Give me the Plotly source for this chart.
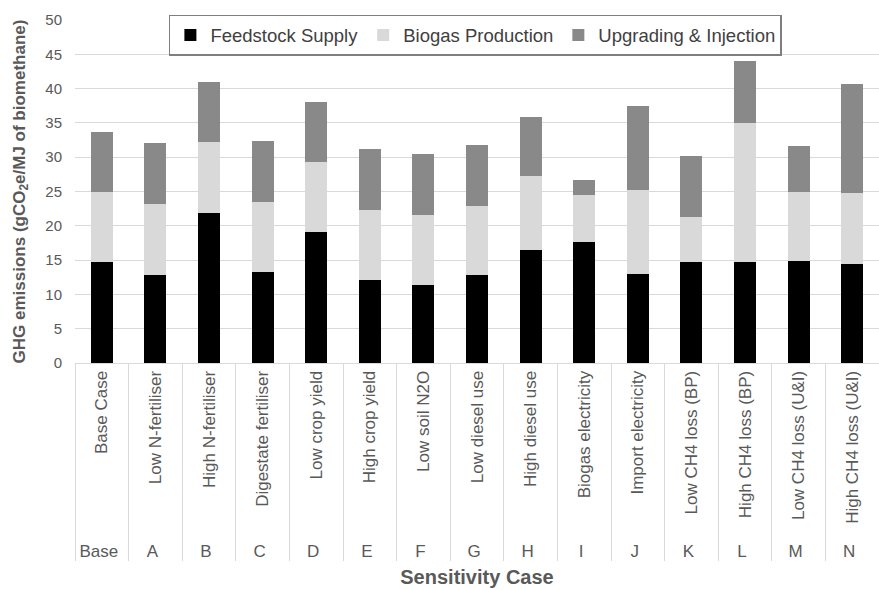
import plotly.graph_objects as go

case_letters = ["Base", "A", "B", "C", "D", "E", "F", "G", "H", "I", "J", "K", "L", "M", "N"]
case_names = ["Base Case", "Low N-fertiliser", "High N-fertiliser", "Digestate fertiliser",
              "Low crop yield", "High crop yield", "Low soil N2O", "Low diesel use",
              "High diesel use", "Biogas electricity", "Import electricity",
              "Low CH4 loss (BP)", "High CH4 loss (BP)", "Low CH4 loss (U&I)", "High CH4 loss (U&I)"]

feedstock_supply = [14.7, 12.9, 21.9, 13.2, 19.1, 12.1, 11.4, 12.9, 16.5, 17.6, 13.0, 14.7, 14.7, 14.85, 14.5]
biogas_production = [10.2, 10.25, 10.3, 10.25, 10.2, 10.2, 10.2, 10.0, 10.7, 6.9, 12.2, 6.6, 20.3, 10.15, 10.35]
upgrading_injection = [8.8, 8.85, 8.8, 8.85, 8.8, 8.9, 8.9, 8.9, 8.7, 2.2, 12.3, 8.9, 9.0, 6.6, 15.85]

x_cats = [case_letters, case_names]

fig = go.Figure()
fig.add_trace(go.Bar(x=x_cats, y=feedstock_supply, name="Feedstock Supply",
                     marker=dict(color="#000000", line=dict(width=0))))
fig.add_trace(go.Bar(x=x_cats, y=biogas_production, name="Biogas Production",
                     marker=dict(color="#d9d9d9", line=dict(width=0))))
fig.add_trace(go.Bar(x=x_cats, y=upgrading_injection, name="Upgrading & Injection",
                     marker=dict(color="#898989", line=dict(width=0))))

fig.update_layout(
    barmode="stack",
    bargap=0.59,
    width=879, height=590,
    margin=dict(l=75, r=0, t=20, b=227),
    plot_bgcolor="white", paper_bgcolor="white",
    font=dict(family="Liberation Sans, Arial, sans-serif", color="#595959"),
    legend=dict(orientation="h", x=0.498, xanchor="center", y=1.015, yanchor="top",
                bgcolor="white", bordercolor="#7f7f7f", borderwidth=1.5,
                font=dict(size=18.5, color="#404040"), traceorder="normal"),
    xaxis=dict(type="multicategory", tickangle=-90, tickfont=dict(size=17, color="#595959"),
               showdividers=True, dividercolor="#d9d9d9", dividerwidth=1,
               showline=True, linecolor="#d9d9d9", linewidth=1,
               ticks="", automargin=False,
               title=dict(text="<b>Sensitivity Case</b>", standoff=10,
                          font=dict(size=20, color="#595959"))),
    yaxis=dict(range=[0, 50], dtick=5, tickfont=dict(size=15, color="#595959"),
               showgrid=True, gridcolor="#d9d9d9", gridwidth=1, zeroline=False,
               automargin=False, ticklabelstandoff=12,
               title=dict(text="<b>GHG emissions (gCO<sub>2</sub>e/MJ of biomethane)</b>",
                          font=dict(size=17, color="#595959"))),
)

fig.write_html("out.html", post_script="document.body.style.margin='0px';",
               config={"displayModeBar": False})
